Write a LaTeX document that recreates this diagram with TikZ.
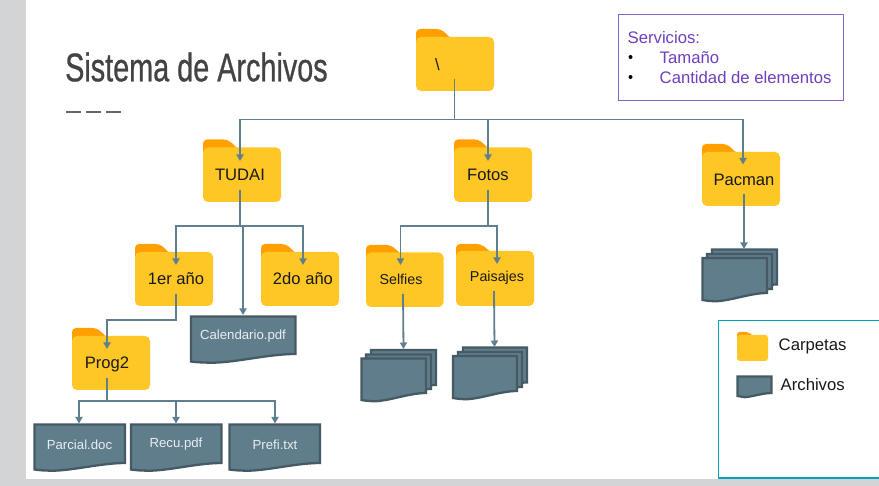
\documentclass[tikz,border=0pt]{standalone}
\usepackage{fontspec}
\setmainfont{Liberation Sans}
\newfontfamily\titlefont[FakeBold=0.8]{Liberation Sans}
\usetikzlibrary{arrows.meta}
\definecolor{pagegray}{HTML}{D3D4D6}
\definecolor{foldbody}{HTML}{FFC726}
\definecolor{foldtab}{HTML}{FFA000}
\definecolor{conncol}{HTML}{5F7F8E}
\definecolor{docfill}{HTML}{607D8B}
\definecolor{docline}{HTML}{455A64}
\definecolor{titlecol}{HTML}{434343}
\definecolor{purpline}{HTML}{8A5FD0}
\definecolor{purptext}{HTML}{6F3FC0}
\definecolor{legline}{HTML}{00A5BD}
\definecolor{doctext}{HTML}{E8EEF1}
\tikzset{
  x=1pt,y=-1pt,
  foldbox/.style={fill=foldbody,draw=none,rounded corners=5pt,inner sep=0pt,outer sep=0pt},
  foldtabs/.style={fill=foldtab,draw=none},
  foldlab/.style={inner sep=0pt,text=black!90,font=\fontsize{16.6}{20}\selectfont},
  foldsmall/.style={inner sep=0pt,text=black!90,font=\fontsize{14.3}{18}\selectfont},
  docshape/.style={fill=docfill,draw=docline,line width=2.3pt,line join=miter},
  doclab/.style={inner sep=0pt,text=doctext,font=\fontsize{13.2}{17}\selectfont},
  conn/.style={draw=conncol,line width=1.8pt},
  arr/.style={conn,-{Triangle[width=7pt,length=6.5pt]}},
  leglab/.style={inner sep=0pt,anchor=west,text=black!90,font=\fontsize{16.7}{20}\selectfont},
  servtext/.style={inner sep=0pt,anchor=west,text=purptext,font=\fontsize{16.7}{21}\selectfont},
  bullet/.style={circle,fill=black,inner sep=0pt,minimum size=4pt}
}
% name, left, tabtop, bodytop, right, bottom
\newcommand\folderbase[6]{%
  \pgfmathsetmacro\fw{#5-#2}\pgfmathsetmacro\fh{#6-#4}%
  \pgfmathsetmacro\fcx{(#5+#2)/2}\pgfmathsetmacro\fcy{(#6+#4)/2}%
  \pgfmathsetmacro\fta{#2+0.32*\fw}\pgfmathsetmacro\ftb{#2+0.43*\fw}%
  \pgfmathsetmacro\fbb{#4+10}%
  \fill[foldtabs,rounded corners=4pt] (#2,\fbb) -- (#2,#3) -- (\fta,#3) [sharp corners] -- (\ftb,#4) -- (\ftb,\fbb) -- cycle;
  \node[foldbox,minimum width=\fw pt,minimum height=\fh pt] (#1) at (\fcx,\fcy) {};
}
% left, top, right, rightbottom, leftbottom
\newcommand\docpath[6][docshape]{%
  \pgfmathsetmacro\dw{#4-#2}%
  \pgfmathsetmacro\dca{#4-0.25*\dw}\pgfmathsetmacro\dcb{#2+0.45*\dw}%
  \pgfmathsetmacro\dcc{#2+0.22*\dw}\pgfmathsetmacro\dcd{#2+0.10*\dw}%
  \pgfmathsetmacro\dya{#6+0.5}\pgfmathsetmacro\dyb{#6+1.2}%
  \path[#1] (#2,#3) -- (#4,#3) -- (#4,#5) .. controls (\dca,#5) and (\dcb,\dya) .. (\dcc,\dyb) .. controls (\dcd,\dyb) and (#2+3,\dya) .. (#2,#6) -- cycle;
}
\begin{document}
\begin{tikzpicture}
\useasboundingbox (0,0) rectangle (879,486);
\fill[pagegray] (0,0) rectangle (879,486);
\fill[white] (26,0) rectangle (879,479);

% title
\node[inner sep=0pt,anchor=west,text=titlecol] (title) at (65,67) {\scalebox{0.72}[1]{\fontsize{40}{46}\titlefont Sistema de Archivos}};
\draw[draw=black!60,line width=2pt,dash pattern=on 15pt off 5.2pt] (66,112.5) -- (121,112.5);

% services box
\node[draw=purpline,line width=0.9pt,fill=white,minimum width=225pt,minimum height=86pt,inner sep=0pt] (serv) at (730.5,57) {};
\node[servtext] (s1) at (627.5,37.5) {Servicios:};
\node[bullet] (b1) at (630.5,57) {};
\node[servtext] (s2) at (659.5,57.5) {Tamaño};
\node[bullet] (b2) at (630.5,77) {};
\node[servtext] (s3) at (659.5,77.5) {Cantidad de elementos};

% folders
\folderbase{root}{416}{29}{37}{494}{91}
\folderbase{tudai}{203}{139.5}{147.5}{281}{202}
\folderbase{fotos}{454}{139.5}{147.5}{532}{202}
\folderbase{pacman}{702}{144}{152}{780}{206}
\folderbase{primero}{135}{244}{252}{213}{306}
\folderbase{segundo}{261}{244}{252}{339}{306}
\folderbase{prog}{72}{328}{336}{150}{390}
\folderbase{selfies}{366}{245}{252.5}{443.5}{307}
\folderbase{paisajes}{456}{244}{251}{534}{306}

\node[foldlab] (rootl) at (437.5,64.5) {\textbackslash};
\node[foldlab] (tudail) at (240,175) {TUDAI};
\node[foldlab] (fotosl) at (488,175) {Fotos};
\node[foldlab] (pacmanl) at (744,180) {Pacman};
\node[foldlab] (primerol) at (176,279) {1er año};
\node[foldlab] (segundol) at (303,279) {2do año};
\node[foldlab] (progl) at (107,364) {Prog2};
\node[foldsmall] (selfiesl) at (401,279) {Selfies};
\node[foldsmall] (paisajesl) at (497,278) {Paisajes};

% documents
\docpath{191}{316.5}{295.5}{354}{361.5}
\node[doclab] (cal) at (243,336.5) {Calendario.pdf};
\docpath{34.5}{424.5}{125}{463}{469.5}
\node[doclab] (parcial) at (79.5,444.5) {Parcial.doc};
\docpath{131}{424.5}{221.5}{463}{469.5}
\node[doclab] (recu) at (176,444.5) {Recu.pdf};
\docpath{229.5}{424.5}{320}{463}{469.5}
\node[doclab] (prefi) at (275,444.5) {Prefi.txt};

% stacks
\docpath{371}{350}{436}{385}{392}
\docpath{366}{354.5}{431}{389}{396}
\docpath{361.5}{358.5}{426}{393}{400}
\docpath{463}{347.5}{527}{382.5}{390}
\docpath{458}{352}{522}{387}{394}
\docpath{453}{356}{517}{391}{398}
\docpath{712}{249.5}{777}{284.5}{292}
\docpath{707}{254}{772}{289}{296}
\docpath{702.5}{258}{767}{293}{300}

% connector ends
\coordinate (root-out) at (454.5,79);
\coordinate (j-root) at (454.5,119.5);
\coordinate (tudai-in) at (240,161);
\coordinate (tudai-out) at (240,190);
\coordinate (j-tudai) at (240,226);
\coordinate (fotos-in) at (488,161);
\coordinate (fotos-out) at (488,190);
\coordinate (j-fotos) at (488,226);
\coordinate (pacman-in) at (743,164.5);
\coordinate (pacman-out) at (744,194);
\coordinate (pacman-doc) at (744,249);
\coordinate (primero-in) at (176,265);
\coordinate (primero-out) at (176,294);
\coordinate (segundo-in) at (303,265);
\coordinate (cal-in) at (243,315);
\coordinate (prog-in) at (107,349);
\coordinate (prog-out) at (107,378);
\coordinate (j-prog) at (107,401);
\coordinate (parcial-in) at (79,423.5);
\coordinate (recu-in) at (176,423.5);
\coordinate (prefi-in) at (275,423.5);
\coordinate (selfies-in) at (400.5,265);
\coordinate (selfies-out) at (403,294);
\coordinate (selfies-doc) at (403.5,349);
\coordinate (paisajes-in) at (497,264);
\coordinate (paisajes-out) at (494,291);
\coordinate (paisajes-doc) at (494.5,347);

% connectors
\draw[arr] (root-out) -- (j-root) -| (tudai-in);
\draw[arr] (j-root) -| (fotos-in);
\draw[arr] (j-root) -| (pacman-in);
\draw[arr] (tudai-out) -- (j-tudai) -| (primero-in);
\draw[arr] (j-tudai) -| (segundo-in);
\draw[arr] (j-tudai) -| (cal-in);
\draw[arr] (fotos-out) -- (j-fotos) -| (selfies-in);
\draw[arr] (j-fotos) -| (paisajes-in);
\draw[arr] (pacman-out) -- (pacman-doc);
\draw[arr] (selfies-out) -- (selfies-doc);
\draw[arr] (paisajes-out) -- (paisajes-doc);
\draw[arr] (primero-out) |- (141,320) -| (prog-in);
\draw[arr] (prog-out) -- (j-prog) -| (parcial-in);
\draw[arr] (j-prog) -| (recu-in);
\draw[arr] (j-prog) -| (prefi-in);

% legend
\draw[draw=legline,line width=1.1pt] (879,320.5) -- (718.5,320.5) -- (718.5,478) -- (879,478);
\fill[foldtabs,rounded corners=2.5pt] (737,340) -- (737,332) -- (748,332) [sharp corners] -- (752,335) -- (752,340) -- cycle;
\node[foldbox,rounded corners=3pt,minimum width=31pt,minimum height=26pt] (legfold) at (752.5,348) {};
\node[leglab] (legf) at (778.5,346) {Carpetas};
\docpath{737.5}{376.5}{771.5}{393}{396}
\node[leglab] (lega) at (780.5,385) {Archivos};
\end{tikzpicture}
\end{document}
